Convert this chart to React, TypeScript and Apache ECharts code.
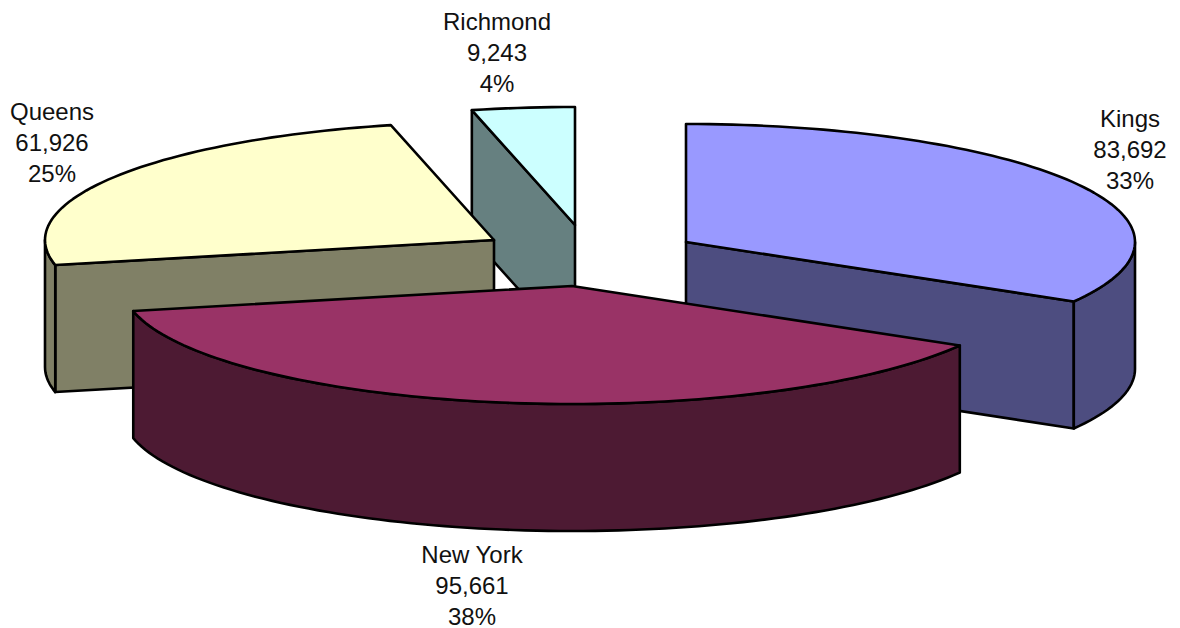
import React, { useEffect, useRef } from "react";
import * as echarts from "echarts";

// Boroughs, clockwise from twelve o'clock
const boroughs = ["Kings", "New York", "Queens", "Richmond"];
const counts = [83692, 95661, 61926, 9243];

const topColors = ["#9999FF", "#993366", "#FFFFCC", "#CCFFFF"];
const sideColors = ["#4D4D80", "#4D1A33", "#808066", "#668080"];

// Apex of each exploded wedge on its top face
const apexX = [686, 572, 494, 575];
const apexY = [242, 286, 240, 225];
// Back-to-front painting rank
const paintRank = [2, 3, 1, 0];

// Centre of each wedge's three-line caption
const captionX = [1130, 472, 52, 497];
const captionY = [149, 585, 142, 52];

const RX = 449;
const RY = 118;
const DEPTH = 127;
const STROKE = "#000000";
const LINE_W = 2.6;

const total = counts.reduce((a, b) => a + b, 0);

const startAngleOf = (i: number) =>
  (counts.slice(0, i).reduce((a, b) => a + b, 0) / total) * 360;

const rimPoint = (cx: number, cy: number, deg: number): number[] => {
  const r = (deg * Math.PI) / 180;
  return [cx + RX * Math.sin(r), cy - RY * Math.cos(r)];
};

const arcPoints = (cx: number, cy: number, from: number, to: number) => {
  const pts: number[][] = [];
  const steps = Math.max(2, Math.ceil((to - from) / 1.5));
  for (let k = 0; k <= steps; k++) {
    pts.push(rimPoint(cx, cy, from + ((to - from) * k) / steps));
  }
  return pts;
};

const renderWedge = (params: any, api: any) => {
  const i = params.dataIndex;
  const value = api.value(0);
  const a0 = startAngleOf(i);
  const a1 = a0 + (value / total) * 360;
  const cx = apexX[i];
  const cy = apexY[i];
  const z = paintRank[i] * 10;

  const face = (points: number[][], fill: string, z2: number) => ({
    type: "polygon",
    z2,
    silent: true,
    shape: { points },
    style: { fill, stroke: STROKE, lineWidth: LINE_W, lineJoin: "round" },
  });

  const children: any[] = [];
  const radialFace = (deg: number) => {
    const p = rimPoint(cx, cy, deg);
    children.push(
      face(
        [[cx, cy], p, [p[0], p[1] + DEPTH], [cx, cy + DEPTH]],
        sideColors[i],
        z + 1,
      ),
    );
  };

  // A cut face shows only when its outward normal turns toward the viewer
  const facesViewer = (deg: number) => Math.cos((deg * Math.PI) / 180) < -1e-6;
  if (facesViewer(a0 - 90)) radialFace(a0);
  if (facesViewer(a1 + 90)) radialFace(a1);

  // The curved wall is visible on the near half of the ellipse only
  const wallFrom = Math.max(a0, 90);
  const wallTo = Math.min(a1, 270);
  if (wallTo > wallFrom) {
    const upper = arcPoints(cx, cy, wallFrom, wallTo);
    const lower = upper.map((p) => [p[0], p[1] + DEPTH]).reverse();
    children.push(face([...upper, ...lower], sideColors[i], z + 2));
  }

  children.push(
    face([[cx, cy], ...arcPoints(cx, cy, a0, a1)], topColors[i], z + 3),
  );

  const pct = Math.round((value / total) * 100);
  children.push({
    type: "text",
    z2: 100,
    silent: true,
    style: {
      x: captionX[i],
      y: captionY[i],
      text: `${boroughs[i]}\n${value.toLocaleString("en-US")}\n${pct}%`,
      align: "center",
      verticalAlign: "middle",
      fontFamily: "'Liberation Sans', Arial, sans-serif",
      fontSize: 24,
      lineHeight: 31,
      fill: "#111111",
    },
  });

  return { type: "group", children };
};

export default function App() {
  const ref = useRef<HTMLDivElement>(null);

  useEffect(() => {
    if (!ref.current) return;
    const chart = echarts.init(ref.current, undefined, { renderer: "svg" });
    chart.setOption({
      animation: false,
      backgroundColor: "#ffffff",
      series: [
        {
          type: "custom",
          coordinateSystem: "none",
          renderItem: renderWedge,
          dimensions: ["count"],
          data: counts.map((v, i) => ({ name: boroughs[i], value: [v] })),
        },
      ],
    });
    return () => chart.dispose();
  }, []);

  return (
    <div
      ref={ref}
      style={{ position: "fixed", left: 0, top: 0, width: 1180, height: 628 }}
    />
  );
}
